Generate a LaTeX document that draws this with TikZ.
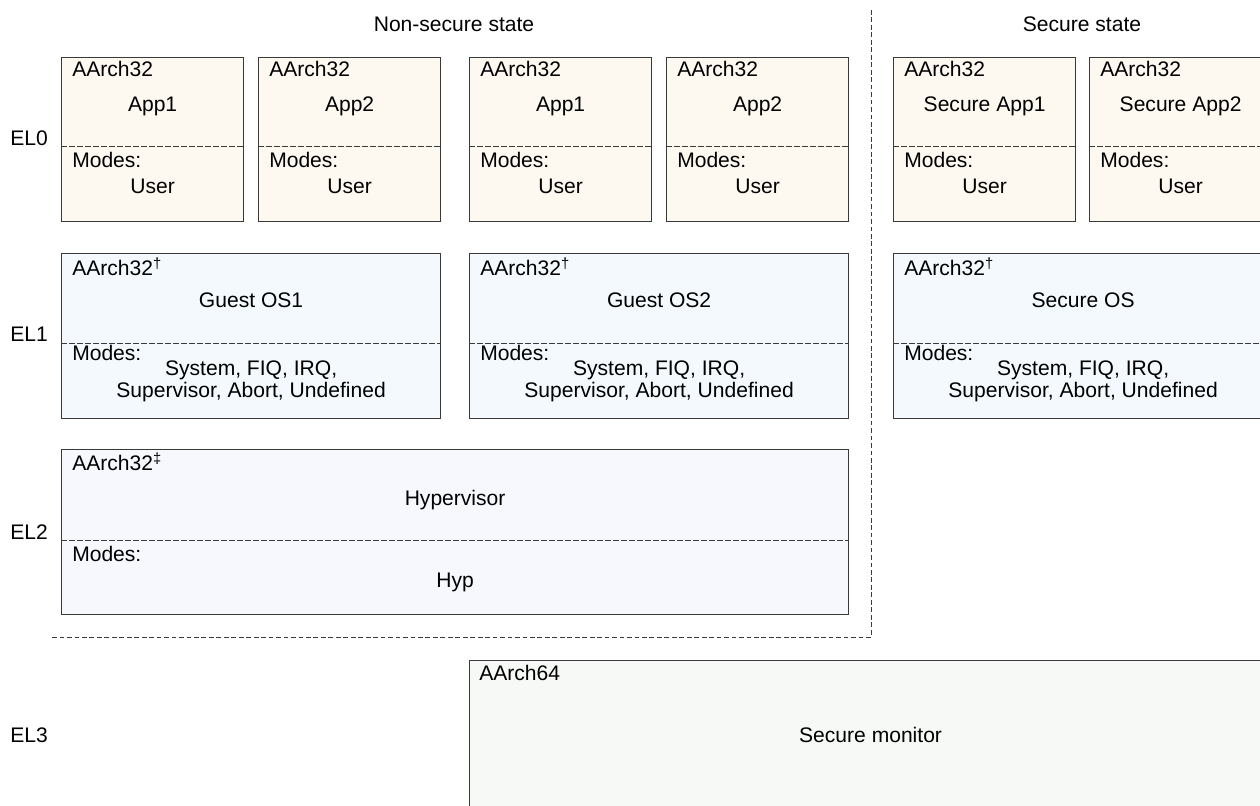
\documentclass[tikz,border=0pt]{standalone}
\usepackage{fontspec}
\setmainfont{Liberation Sans}
\usepackage{xcolor}
\usetikzlibrary{positioning}

\definecolor{elzero}{HTML}{FDF9F1}
\definecolor{elone}{HTML}{F3F9FC}
\definecolor{eltwo}{HTML}{F7F8FD}
\definecolor{elthree}{HTML}{F7F9F6}
\definecolor{boxline}{HTML}{3A3A3A}

\begin{document}
\begin{tikzpicture}[
  x=0.75pt, y=-0.75pt,
  % boxes of the exception levels
  level_box/.style={rectangle, draw=boxline, line width=0.9pt, anchor=north west, inner sep=0pt},
  app_box/.style={level_box, fill=elzero, minimum width=136.5pt, minimum height=123pt},
  os_box/.style={level_box, fill=elone, minimum width=284.25pt, minimum height=123.75pt},
  hyp_box/.style={level_box, fill=eltwo, minimum width=590.25pt, minimum height=123.75pt},
  mon_box/.style={level_box, fill=elthree, minimum width=601.5pt, minimum height=150pt},
  % dashed lines inside the boxes and between the states
  divider/.style={draw=boxline, line width=0.6pt, dash pattern=on 4.2pt off 1.8pt},
  state_sep/.style={draw=boxline, line width=0.6pt, dash pattern=on 3.6pt off 2pt},
  % texts
  txt/.style={inner sep=0pt, font=\fontsize{15.8}{19}\selectfont, text=black},
  tag_label/.style={txt, anchor=base west},
  mid_label/.style={txt, anchor=base}
]

\useasboundingbox (0,0) rectangle (1260,806);
\clip (0,0) rectangle (1260,806);

% state headings
\node[mid_label] (nonsec) at (454,32) {Non-secure state};
\node[mid_label] (sec) at (1082,32) {Secure state};

% level names
\node[tag_label] (el0) at (10,146) {EL0};
\node[tag_label] (el1) at (10,341) {EL1};
\node[tag_label] (el2) at (10,539) {EL2};
\node[tag_label] (el3) at (10,742) {EL3};

% EL0: the applications
\node[app_box] (a1) at (61,57)   {};
\node[app_box] (a2) at (258,57)  {};
\node[app_box] (a3) at (469,57)  {};
\node[app_box] (a4) at (666,57)  {};
\node[app_box] (a5) at (893,57)  {};
\node[app_box] (a6) at (1089,57) {};

\draw[divider] ([shift={(0,89)}]a1.north west) -- ([shift={(0,89)}]a1.north east);
\draw[divider] ([shift={(0,89)}]a2.north west) -- ([shift={(0,89)}]a2.north east);
\draw[divider] ([shift={(0,89)}]a3.north west) -- ([shift={(0,89)}]a3.north east);
\draw[divider] ([shift={(0,89)}]a4.north west) -- ([shift={(0,89)}]a4.north east);
\draw[divider] ([shift={(0,89)}]a5.north west) -- ([shift={(0,89)}]a5.north east);
\draw[divider] ([shift={(0,89)}]a6.north west) -- ([shift={(0,89)}]a6.north east);

\node[tag_label] (a1_tag) at ([shift={(11,20)}]a1.north west) {AArch32};
\node[tag_label] (a2_tag) at ([shift={(11,20)}]a2.north west) {AArch32};
\node[tag_label] (a3_tag) at ([shift={(11,20)}]a3.north west) {AArch32};
\node[tag_label] (a4_tag) at ([shift={(11,20)}]a4.north west) {AArch32};
\node[tag_label] (a5_tag) at ([shift={(11,20)}]a5.north west) {AArch32};
\node[tag_label] (a6_tag) at ([shift={(11,20)}]a6.north west) {AArch32};

\node[mid_label] (a1_name) at ([shift={(0,55)}]a1.north) {App1};
\node[mid_label] (a2_name) at ([shift={(0,55)}]a2.north) {App2};
\node[mid_label] (a3_name) at ([shift={(0,55)}]a3.north) {App1};
\node[mid_label] (a4_name) at ([shift={(0,55)}]a4.north) {App2};
\node[mid_label] (a5_name) at ([shift={(0,55)}]a5.north) {Secure App1};
\node[mid_label] (a6_name) at ([shift={(0,55)}]a6.north) {Secure App2};

\node[tag_label] (a1_modes) at ([shift={(11,111)}]a1.north west) {Modes:};
\node[tag_label] (a2_modes) at ([shift={(11,111)}]a2.north west) {Modes:};
\node[tag_label] (a3_modes) at ([shift={(11,111)}]a3.north west) {Modes:};
\node[tag_label] (a4_modes) at ([shift={(11,111)}]a4.north west) {Modes:};
\node[tag_label] (a5_modes) at ([shift={(11,111)}]a5.north west) {Modes:};
\node[tag_label] (a6_modes) at ([shift={(11,111)}]a6.north west) {Modes:};

\node[mid_label] (a1_user) at ([shift={(0,137)}]a1.north) {User};
\node[mid_label] (a2_user) at ([shift={(0,137)}]a2.north) {User};
\node[mid_label] (a3_user) at ([shift={(0,137)}]a3.north) {User};
\node[mid_label] (a4_user) at ([shift={(0,137)}]a4.north) {User};
\node[mid_label] (a5_user) at ([shift={(0,137)}]a5.north) {User};
\node[mid_label] (a6_user) at ([shift={(0,137)}]a6.north) {User};

% EL1: the operating systems
\node[os_box] (os1) at (61,253)  {};
\node[os_box] (os2) at (469,253) {};
\node[os_box] (sos) at (893,253) {};

\draw[divider] ([shift={(0,90)}]os1.north west) -- ([shift={(0,90)}]os1.north east);
\draw[divider] ([shift={(0,90)}]os2.north west) -- ([shift={(0,90)}]os2.north east);
\draw[divider] ([shift={(0,90)}]sos.north west) -- ([shift={(0,90)}]sos.north east);

\node[tag_label] (os1_tag) at ([shift={(11,22)}]os1.north west) {AArch32\textsuperscript{†}};
\node[tag_label] (os2_tag) at ([shift={(11,22)}]os2.north west) {AArch32\textsuperscript{†}};
\node[tag_label] (sos_tag) at ([shift={(11,22)}]sos.north west) {AArch32\textsuperscript{†}};

\node[mid_label] (os1_name) at ([shift={(0,54)}]os1.north) {Guest OS1};
\node[mid_label] (os2_name) at ([shift={(0,54)}]os2.north) {Guest OS2};
\node[mid_label] (sos_name) at ([shift={(0,54)}]sos.north) {Secure OS};

\node[tag_label] (os1_modes) at ([shift={(11,107)}]os1.north west) {Modes:};
\node[tag_label] (os2_modes) at ([shift={(11,107)}]os2.north west) {Modes:};
\node[tag_label] (sos_modes) at ([shift={(11,107)}]sos.north west) {Modes:};

\node[mid_label] (os1_m1) at ([shift={(0,122)}]os1.north) {System, FIQ, IRQ,};
\node[mid_label] (os2_m1) at ([shift={(0,122)}]os2.north) {System, FIQ, IRQ,};
\node[mid_label] (sos_m1) at ([shift={(0,122)}]sos.north) {System, FIQ, IRQ,};
\node[mid_label] (os1_m2) at ([shift={(0,144)}]os1.north) {Supervisor, Abort, Undefined};
\node[mid_label] (os2_m2) at ([shift={(0,144)}]os2.north) {Supervisor, Abort, Undefined};
\node[mid_label] (sos_m2) at ([shift={(0,144)}]sos.north) {Supervisor, Abort, Undefined};

% EL2: the hypervisor
\node[hyp_box] (hyp) at (61,449) {};
\draw[divider] ([shift={(0,91)}]hyp.north west) -- ([shift={(0,91)}]hyp.north east);
\node[tag_label] (hyp_tag) at ([shift={(11,21)}]hyp.north west) {AArch32\textsuperscript{‡}};
\node[mid_label] (hyp_name) at ([shift={(0,56)}]hyp.north) {Hypervisor};
\node[tag_label] (hyp_modes) at ([shift={(11,112)}]hyp.north west) {Modes:};
\node[mid_label] (hyp_mode) at ([shift={(0,138)}]hyp.north) {Hyp};

% EL3: the secure monitor
\node[mon_box] (mon) at (469,660) {};
\node[tag_label] (mon_tag) at ([shift={(10,20)}]mon.north west) {AArch64};
\node[mid_label] (mon_name) at ([shift={(0,82)}]mon.north) {Secure monitor};

% border of the non-secure state
\coordinate (sep_top) at (871,10);
\coordinate (sep_corner) at (871,637);
\coordinate (sep_left) at (52,637);
\draw[state_sep] (sep_top) -- (sep_corner) -- (sep_left);

\end{tikzpicture}
\end{document}
